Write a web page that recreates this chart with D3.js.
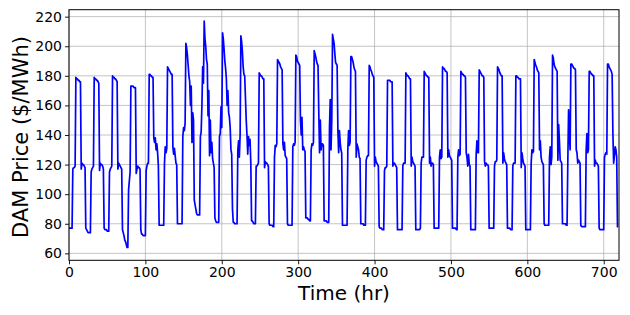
<!DOCTYPE html>
<html>
<head>
<meta charset="utf-8">
<script src="https://cdn.jsdelivr.net/npm/d3@7"></script>
<style>
  html, body { margin: 0; padding: 0; background: #fff; }
  svg { display: block; font-family: "DejaVu Sans", sans-serif; }
</style>
</head>
<body>
<div id="chart"></div>
<script>
// hourly DAM price, one row per day (hours 0..23)
const priceByDay = [
  [77,77,77,77,77, 117,118,118,119, 179,178,178,177,177,176,176, 117,121,120,120,119,118, 77,76],
  [75,74,74,74,74, 115,117,118,119, 179,178,178,177,177,176,175, 116,121,120,120,119,117, 77,76],
  [76,76,75,75,75, 115,117,118,119, 180,179,179,178,178,177,176, 117,121,120,119,118,117, 76,74],
  [72,69,68,66,64, 64,103,109,115, 173,173,173,173,172,172,172, 114,117,119,118,118,117, 76,73],
  [73,72,72,72,72, 116,119,121,121, 181,181,180,180,179,179,138, 135,138,130,134,128,119, 79,79],
  [79,79,79,79,79, 121,132,128,131, 186,185,184,183,182,181,181, 132,127,131,126,121,120, 80,80],
  [80,80,80,80,80, 139,145,143,148, 202,199,194,187,180,176,160, 173,135,155,150,96,93, 90,87],
  [86,86,86,86,139, 142,160,186,175, 217,205,200,191,188,153,170, 126,150,128,135,124,121, 118,84],
  [82,81,81,81,81, 139,141,159,145, 209,205,198,190,185,178,160, 170,155,152,145,130,127, 90,81],
  [81,80,80,80,80, 130,136,125,140, 207,203,196,186,181,180,165, 150,140,127,139,133,137, 121,82],
  [82,81,80,80,80, 119,119,120,121, 182,181,180,180,179,178,178, 118,122,121,121,120,119, 80,79],
  [79,79,79,78,78, 125,133,132,134, 191,190,189,188,186,185,184, 134,130,135,126,125,124, 80,79],
  [79,79,79,79,79, 132,134,133,135, 194,193,190,189,188,187,150, 140,152,130,132,130,129, 84,84],
  [84,83,83,82,82, 130,134,133,135, 197,195,193,190,188,187,155, 128,150,130,134,134,133, 82,82],
  [82,82,81,81,81, 145,164,130,150, 208,205,202,195,189,188,187, 143,128,143,135,130,128, 79,79],
  [79,79,79,79,79, 130,143,133,135, 193,193,191,189,186,184,183, 125,134,132,130,125,124, 80,80],
  [80,80,79,79,79, 123,125,126,126, 187,186,184,183,181,180,179, 119,125,122,121,120,119, 78,77],
  [77,77,76,76,76, 116,118,118,119, 177,177,177,177,176,176,176, 119,121,121,120,119,118, 76,76],
  [76,76,76,76,76, 119,121,121,121, 182,181,180,180,179,178,178, 119,125,122,121,120,119, 76,76],
  [76,76,76,76,77, 121,125,125,125, 183,182,181,180,180,179,179, 121,125,119,121,121,120, 77,77],
  [77,77,77,77,77, 125,130,124,125, 186,185,185,184,183,183,182, 125,130,126,125,124,123, 77,77],
  [77,77,77,76,76, 125,130,126,127, 183,182,181,181,180,180,179, 128,125,119,127,120,119, 76,76],
  [76,76,76,76,76, 127,136,128,128, 184,183,182,181,180,180,179, 122,119,121,120,120,119, 77,77],
  [77,77,77,77,77, 119,122,122,123, 186,185,184,182,181,180,180, 121,128,124,122,121,120, 77,77],
  [77,77,76,76,76, 119,121,121,121, 180,180,179,179,178,178,178, 118,128,124,121,120,119, 76,76],
  [76,76,76,76,76, 121,130,128,129, 191,189,187,186,184,183,182, 130,136,125,122,121,120, 80,79],
  [79,79,79,79,79, 125,132,120,125, 194,192,188,186,185,184,183, 123,147,136,123,122,121, 80,80],
  [80,80,80,79,79, 122,157,141,130, 188,188,187,186,185,185,184, 130,128,121,123,122,121, 79,78],
  [78,78,78,78,78, 130,141,128,130, 183,183,182,181,181,180,180, 119,123,121,121,120,119, 77,76],
  [76,76,76,76,76, 125,127,128,127, 188,188,186,185,184,183,181, 141,121,126,132,130,125, 78,78]
];

const xTicks = [0, 100, 200, 300, 400, 500, 600, 700];
const yTicks = [60, 80, 100, 120, 140, 160, 180, 200, 220];

const series = priceByDay.flat().map((price, hour) => ({ hour, price }));

const width = 630, height = 315;
const margin = { left: 69, right: 11, top: 9.7, bottom: 54.7 };

const svg = d3.select('#chart')
  .append('svg')
  .attr('width', width)
  .attr('height', height)
  .attr('viewBox', [0, 0, width, height]);

const x = d3.scaleLinear()
  .domain([0, 720])
  .range([margin.left, width - margin.right]);

const y = d3.scaleLinear()
  .domain([55.3, 224.7])
  .range([height - margin.bottom, margin.top]);

// grid
svg.append('g')
  .selectAll('line')
  .data(xTicks)
  .join('line')
  .attr('x1', d => x(d)).attr('x2', d => x(d))
  .attr('y1', y.range()[0]).attr('y2', y.range()[1])
  .attr('stroke', '#b0b0b0').attr('stroke-opacity', 0.75).attr('stroke-width', 1);

svg.append('g')
  .selectAll('line')
  .data(yTicks)
  .join('line')
  .attr('x1', x.range()[0]).attr('x2', x.range()[1])
  .attr('y1', d => y(d)).attr('y2', d => y(d))
  .attr('stroke', '#b0b0b0').attr('stroke-opacity', 0.75).attr('stroke-width', 1);

// price line
const line = d3.line()
  .x(d => x(d.hour))
  .y(d => y(d.price));

svg.append('path')
  .datum(series)
  .attr('fill', 'none')
  .attr('stroke', '#0000ff')
  .attr('stroke-width', 1.7)
  .attr('stroke-linejoin', 'round')
  .attr('d', line);

// axes
const xAxis = svg.append('g')
  .attr('transform', `translate(0,${y.range()[0]})`)
  .call(d3.axisBottom(x).tickValues(xTicks).tickSize(4).tickPadding(3).tickFormat(d3.format('d')));

const yAxis = svg.append('g')
  .attr('transform', `translate(${x.range()[0]},0)`)
  .call(d3.axisLeft(y).tickValues(yTicks).tickSize(4).tickPadding(3).tickFormat(d3.format('d')));

[xAxis, yAxis].forEach(g => {
  g.select('.domain').remove();
  g.selectAll('text').attr('font-size', 14).attr('font-family', '"DejaVu Sans", sans-serif').attr('fill', '#000');
  g.selectAll('.tick line').attr('stroke', '#000').attr('stroke-width', 0.9);
});

// frame
svg.append('rect')
  .attr('x', x.range()[0]).attr('y', y.range()[1])
  .attr('width', x.range()[1] - x.range()[0])
  .attr('height', y.range()[0] - y.range()[1])
  .attr('fill', 'none')
  .attr('stroke', '#000')
  .attr('stroke-width', 1);

// labels
svg.append('text')
  .attr('x', (x.range()[0] + x.range()[1]) / 2)
  .attr('y', 300)
  .attr('text-anchor', 'middle')
  .attr('font-size', 20)
  .text('Time (hr)');

svg.append('text')
  .attr('transform', `translate(28,${(y.range()[0] + y.range()[1]) / 2 + 2}) rotate(-90)`)
  .attr('text-anchor', 'middle')
  .attr('font-size', 21)
  .text('DAM Price ($/MWh)');
</script>
</body>
</html>
